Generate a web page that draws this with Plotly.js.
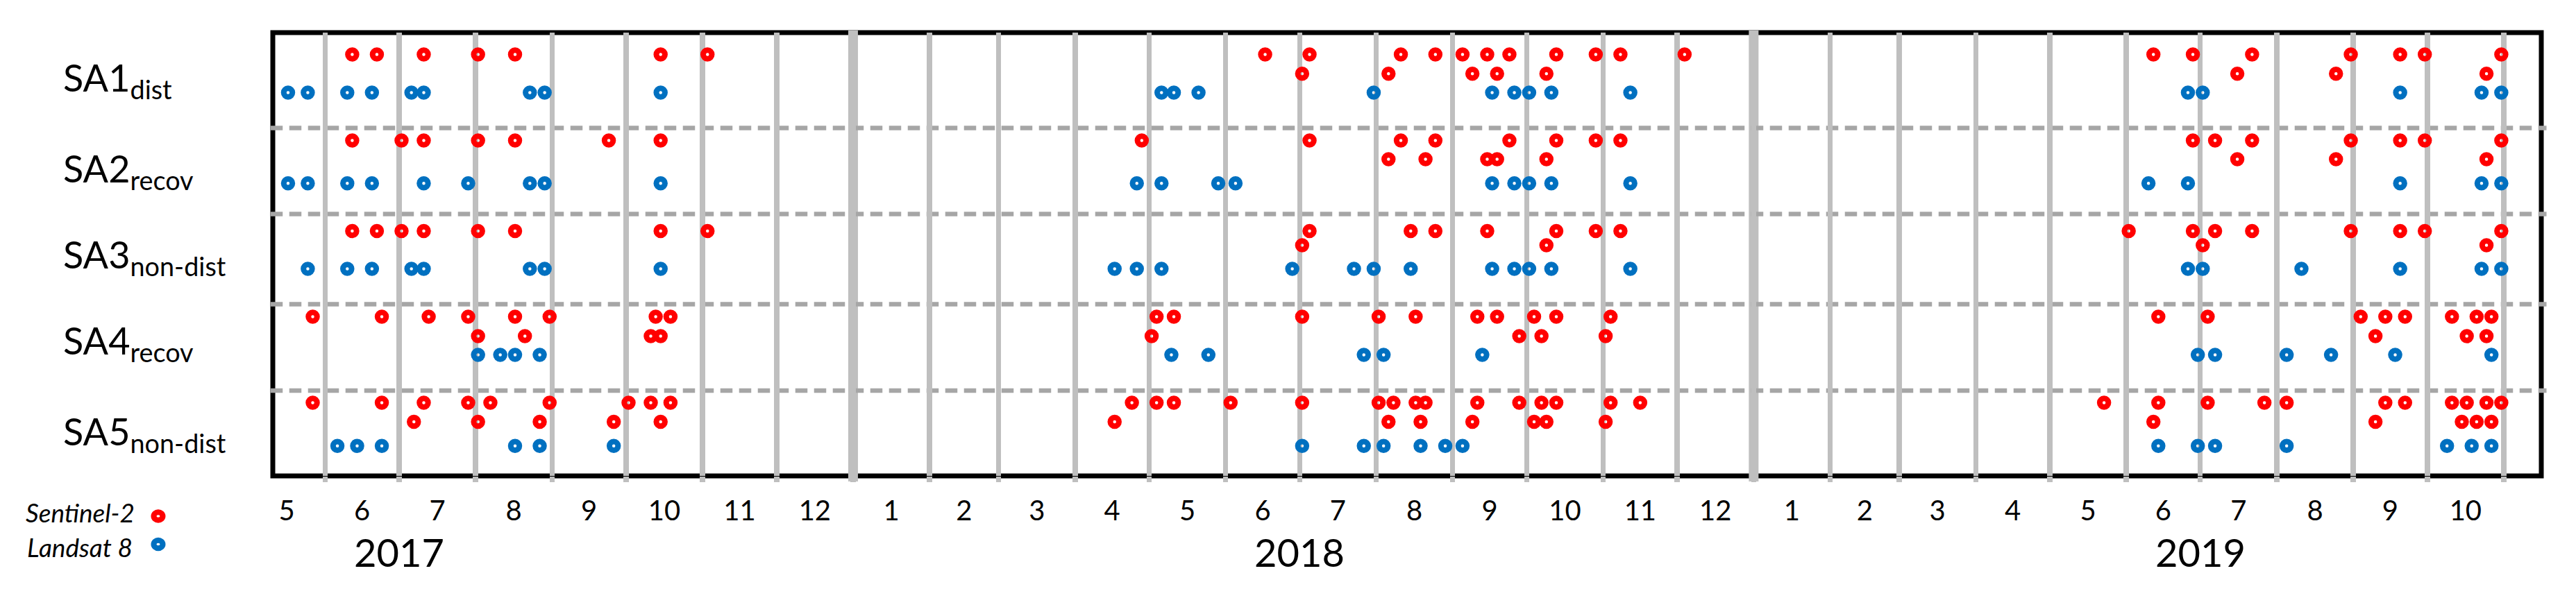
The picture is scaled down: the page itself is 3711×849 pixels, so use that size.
<!DOCTYPE html>
<html>
<head>
<meta charset="utf-8">
<script src="https://cdn.plot.ly/plotly-3.0.1.min.js"></script>
<style>html,body{margin:0;padding:0;background:#fff;}</style>
</head>
<body>
<div id="chart" style="width:3711px;height:849px;"></div>
<script>
// ---------------- DATA ----------------
const siteNames = ['SA1', 'SA2', 'SA3', 'SA4', 'SA5'];
const siteSubs  = ['dist', 'recov', 'non-dist', 'recov', 'non-dist'];

// Sentinel-2 acquisitions (upper and lower staggered rows) and Landsat 8 acquisitions
const SA1_S2_upper = ['2017-06-12','2017-06-22','2017-07-11','2017-08-02','2017-08-17','2017-10-15','2017-11-03',
  '2018-06-17','2018-07-05','2018-08-11','2018-08-25','2018-09-05','2018-09-15','2018-09-24','2018-10-13','2018-10-29','2018-11-08','2018-12-04',
  '2019-06-12','2019-06-28','2019-07-22','2019-08-31','2019-09-20','2019-09-30','2019-10-31'];
const SA1_S2_lower = ['2018-07-02','2018-08-06','2018-09-09','2018-09-19','2018-10-09','2019-07-16','2019-08-25','2019-10-25'];
const SA1_L8 = ['2017-05-17','2017-05-25','2017-06-10','2017-06-20','2017-07-06','2017-07-11','2017-08-23','2017-08-29','2017-10-15',
  '2018-05-06','2018-05-11','2018-05-21','2018-07-31','2018-09-17','2018-09-26','2018-10-02','2018-10-11','2018-11-12',
  '2019-06-26','2019-07-02','2019-09-20','2019-10-23','2019-10-31'];

const SA2_S2_upper = ['2017-06-12','2017-07-02','2017-07-11','2017-08-02','2017-08-17','2017-09-24','2017-10-15',
  '2018-04-28','2018-07-05','2018-08-11','2018-08-25','2018-09-24','2018-10-13','2018-10-29','2018-11-08',
  '2019-06-28','2019-07-07','2019-07-22','2019-08-31','2019-09-20','2019-09-30','2019-10-31'];
const SA2_S2_lower = ['2018-08-06','2018-08-21','2018-09-15','2018-09-19','2018-10-09','2019-07-16','2019-08-25','2019-10-25'];
const SA2_L8 = ['2017-05-17','2017-05-25','2017-06-10','2017-06-20','2017-07-11','2017-07-29','2017-08-23','2017-08-29','2017-10-15',
  '2018-04-26','2018-05-06','2018-05-29','2018-06-05','2018-09-17','2018-09-26','2018-10-02','2018-10-11','2018-11-12',
  '2019-06-10','2019-06-26','2019-09-20','2019-10-23','2019-10-31'];

const SA3_S2_upper = ['2017-06-12','2017-06-22','2017-07-02','2017-07-11','2017-08-02','2017-08-17','2017-10-15','2017-11-03',
  '2018-07-05','2018-08-15','2018-08-25','2018-09-15','2018-10-13','2018-10-29','2018-11-08',
  '2019-06-02','2019-06-28','2019-07-07','2019-07-22','2019-08-31','2019-09-20','2019-09-30','2019-10-31'];
const SA3_S2_lower = ['2018-07-02','2018-10-09','2019-07-02','2019-10-25'];
const SA3_L8 = ['2017-05-25','2017-06-10','2017-06-20','2017-07-06','2017-07-11','2017-08-23','2017-08-29','2017-10-15',
  '2018-04-17','2018-04-26','2018-05-06','2018-06-28','2018-07-23','2018-07-31','2018-08-15','2018-09-17','2018-09-26','2018-10-02','2018-10-11','2018-11-12',
  '2019-06-26','2019-07-02','2019-08-11','2019-09-20','2019-10-23','2019-10-31'];

const SA4_S2_upper = ['2017-05-27','2017-06-24','2017-07-13','2017-07-29','2017-08-17','2017-08-31','2017-10-13','2017-10-19',
  '2018-05-04','2018-05-11','2018-07-02','2018-08-02','2018-08-17','2018-09-11','2018-09-19','2018-10-04','2018-10-13','2018-11-04',
  '2019-06-14','2019-07-04','2019-09-04','2019-09-14','2019-09-22','2019-10-11','2019-10-21','2019-10-27'];
const SA4_S2_lower = ['2017-08-02','2017-08-21','2017-10-11','2017-10-15','2018-05-02','2018-09-28','2018-10-07','2018-11-02',
  '2019-09-10','2019-10-17','2019-10-25'];
const SA4_L8 = ['2017-08-02','2017-08-11','2017-08-17','2017-08-27','2018-05-10','2018-05-25','2018-07-27','2018-08-04','2018-09-13',
  '2019-06-30','2019-07-07','2019-08-05','2019-08-23','2019-09-18','2019-10-27'];

const SA5_S2_upper = ['2017-05-27','2017-06-24','2017-07-11','2017-07-29','2017-08-07','2017-08-31','2017-10-02','2017-10-11','2017-10-19',
  '2018-04-24','2018-05-04','2018-05-11','2018-06-03','2018-07-02','2018-08-02','2018-08-08','2018-08-17','2018-08-21','2018-09-11','2018-09-28','2018-10-07','2018-10-13','2018-11-04','2018-11-16',
  '2019-05-23','2019-06-14','2019-07-04','2019-07-27','2019-08-05','2019-09-14','2019-09-22','2019-10-11','2019-10-17','2019-10-25','2019-10-31'];
const SA5_S2_lower = ['2017-07-07','2017-08-02','2017-08-27','2017-09-26','2017-10-15',
  '2018-04-17','2018-08-06','2018-08-19','2018-09-09','2018-10-04','2018-10-09','2018-11-02',
  '2019-06-12','2019-09-10','2019-10-15','2019-10-21','2019-10-27'];
const SA5_L8 = ['2017-06-06','2017-06-14','2017-06-24','2017-08-17','2017-08-27','2017-09-26',
  '2018-07-02','2018-07-27','2018-08-04','2018-08-19','2018-08-29','2018-09-05',
  '2019-06-14','2019-06-30','2019-07-07','2019-08-05','2019-10-09','2019-10-19','2019-10-27'];

// Axis labels
const monthStarts = ['2017-05','2017-06','2017-07','2017-08','2017-09','2017-10','2017-11','2017-12',
  '2018-01','2018-02','2018-03','2018-04','2018-05','2018-06','2018-07','2018-08','2018-09','2018-10','2018-11','2018-12',
  '2019-01','2019-02','2019-03','2019-04','2019-05','2019-06','2019-07','2019-08','2019-09','2019-10'];
const monthLabels = ['5','6','7','8','9','10','11','12','1','2','3','4','5','6','7','8','9','10','11','12','1','2','3','4','5','6','7','8','9','10'];
const yearLabels = ['2017','2018','2019'];
const yearLabelDates = ['2017-07-01','2018-07-01','2019-07-01'];
const yearBoundaries = ['2018-01-01','2019-01-01'];
const legendNames = ['Sentinel-2','Landsat 8'];

// ---------------- LAYOUT CONSTANTS ----------------
const RED = '#ff0000', BLUE = '#0070c0';
const X_RANGE = ['2017-05-10 19:40', '2019-11-16 05:00'];
// vertical positions (plot units: 0 = top, 639 = bottom) of [S2 upper, S2 lower, L8] rows per site
const ROW_Y = [[31.5,59.2,86.4],[155.5,182.6,217.2],[286,306.5,340.6],[409.4,437.6,464.6],[533.5,561,595.7]];
const SEP_Y = [137.5,261.5,391.5,516];
const FONT = 'Lato, "Open Sans", sans-serif';

const siteData = [
  [SA1_S2_upper, SA1_S2_lower, SA1_L8],
  [SA2_S2_upper, SA2_S2_lower, SA2_L8],
  [SA3_S2_upper, SA3_S2_lower, SA3_L8],
  [SA4_S2_upper, SA4_S2_lower, SA4_L8],
  [SA5_S2_upper, SA5_S2_lower, SA5_L8]
];

function markerOf(c) {
  return {symbol: 'circle-open', size: 12.5, color: c, line: {width: 8, color: c}};
}

const traces = [];
siteData.forEach((d, i) => {
  const s2x = d[0].concat(d[1]);
  const s2y = d[0].map(() => ROW_Y[i][0]).concat(d[1].map(() => ROW_Y[i][1]));
  traces.push({type: 'scatter', mode: 'markers', name: siteNames[i] + ' ' + legendNames[0],
    x: s2x, y: s2y, marker: markerOf(RED), showlegend: false, hoverinfo: 'x'});
  traces.push({type: 'scatter', mode: 'markers', name: siteNames[i] + ' ' + legendNames[1],
    x: d[2], y: d[2].map(() => ROW_Y[i][2]), marker: markerOf(BLUE), showlegend: false, hoverinfo: 'x'});
});

// month centres for labels
function toStr(ms) { return new Date(ms).toISOString().replace('T', ' ').slice(0, 19); }
const monthMids = monthStarts.map(m => {
  const [y, mo] = m.split('-').map(Number);
  const a = Date.UTC(y, mo - 1, 1), b = Date.UTC(y, mo, 1);
  return toStr((a + b) / 2);
});

const shapes = [];
// frame
shapes.push({type: 'rect', xref: 'paper', yref: 'paper', x0: 0, x1: 1, y0: 0, y1: 1,
  line: {color: '#000', width: 7}, layer: 'below'});
// year boundaries
yearBoundaries.forEach(d => shapes.push({type: 'line', xref: 'x', yref: 'paper', x0: d, x1: d, y0: -0.0125, y1: 1.005,
  line: {color: '#bfbfbf', width: 14}, layer: 'between'}));
// site separators
SEP_Y.forEach(v => shapes.push({type: 'line', xref: 'paper', yref: 'y', x0: -0.001, x1: 1.0023, y0: v, y1: v,
  line: {color: '#a6a6a6', width: 6.5, dash: '17.5px,9.5px'}, layer: 'between'}));
// legend symbols
[[RED, -0.0908], [BLUE, -0.1541]].forEach(([c, yy]) => shapes.push({type: 'circle', xref: 'paper', yref: 'paper',
  xsizemode: 'pixel', ysizemode: 'pixel', xanchor: -0.0505, yanchor: yy, x0: -6.5, x1: 6.5, y0: -5.8, y1: 5.8,
  line: {color: c, width: 8}, fillcolor: 'rgba(0,0,0,0)'}));

const annotations = [];
siteNames.forEach((n, i) => annotations.push({xref: 'paper', yref: 'y', x: -0.0929, y: ROW_Y[i][2] - 18,
  xanchor: 'left', yanchor: 'middle', showarrow: false, text: n + '<sub>' + siteSubs[i] + '</sub>',
  font: {family: FONT, size: 54, color: '#000'}}));
yearLabels.forEach((t, i) => annotations.push({xref: 'x', yref: 'paper', x: yearLabelDates[i], y: -0.1706,
  xanchor: 'center', yanchor: 'middle', showarrow: false, text: t, font: {family: FONT, size: 56, color: '#000'}}));
[[legendNames[0], -0.1096, -0.0825], [legendNames[1], -0.1090, -0.1607]].forEach(([t, xx, yy]) =>
  annotations.push({xref: 'paper', yref: 'paper', x: xx, y: yy, xanchor: 'left', yanchor: 'middle', showarrow: false,
    text: '<i>' + t + '</i>', font: {family: FONT, size: 37, color: '#000'}}));

const layout = {
  width: 3711, height: 849, autosize: false,
  margin: {l: 393, r: 50, t: 47, b: 163, pad: 0},
  paper_bgcolor: '#fff', plot_bgcolor: '#fff',
  showlegend: false,
  xaxis: {type: 'date', range: X_RANGE,
    tickmode: 'array', tickvals: monthMids, ticktext: monthLabels,
    showgrid: false, ticks: '', zeroline: false, showline: false, ticklabelstandoff: 23,
    tickfont: {family: FONT, size: 40, color: '#000'},
    minor: {tickmode: 'linear', tick0: '2017-05-01', dtick: 'M1', showgrid: true, gridcolor: '#bfbfbf', gridwidth: 7.5,
      ticks: 'outside', ticklen: 8, tickwidth: 7.5, tickcolor: '#bfbfbf'}},
  yaxis: {range: [639, 0], visible: false, showgrid: false, zeroline: false, fixedrange: true},
  shapes: shapes,
  annotations: annotations
};

Plotly.newPlot('chart', traces, layout, {displayModeBar: false, staticPlot: true});
</script>
</body>
</html>
